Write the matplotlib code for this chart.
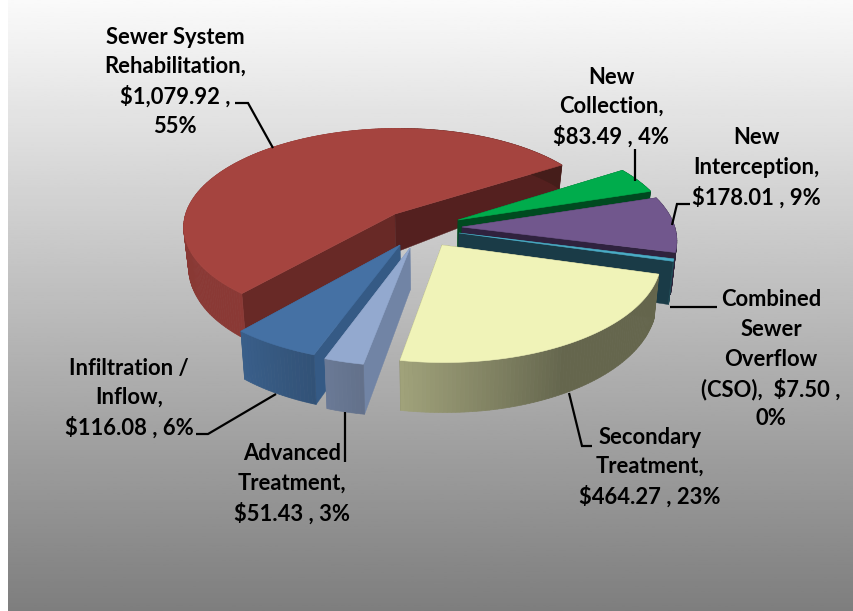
import numpy as np
import matplotlib
matplotlib.use('Agg')
import matplotlib.pyplot as plt
from matplotlib.patches import Polygon
from matplotlib.colors import to_rgb

# valores do grafico
nomes = ['Sewer System Rehabilitation', 'New Collection', 'New Interception',
         'Combined Sewer Overflow (CSO)', 'Secondary Treatment',
         'Advanced Treatment', 'Infiltration / Inflow']
valores = [1079.92, 83.49, 178.01, 7.50, 464.27, 51.43, 116.08]
cores = ['#A5443F', '#00AC4C', '#71578D', '#4BACC6', '#F0F3B8', '#93A9CF', '#4571A4']
# cor das faces de corte: (primeira face, ultima face)
cores_corte = [('#54201F', '#682926'), ('#004A20', '#004A20'), ('#2F223E', '#2F223E'),
               ('#1A3B47', '#1A3B47'), ('#62624A', '#62624A'), ('#7184A5', '#7184A5'),
               ('#355A85', '#355A85')]

rotulos = [
    ['Sewer System', 'Rehabilitation,', '$1,079.92 ,', '55%'],
    ['New', 'Collection,', '$83.49 , 4%'],
    ['New', 'Interception,', '$178.01 , 9%'],
    ['Combined', 'Sewer', 'Overflow', '(CSO),  $7.50 ,', '0%'],
    ['Secondary', 'Treatment,', '$464.27 , 23%'],
    ['Advanced', 'Treatment,', '$51.43 , 3%'],
    ['Infiltration /', 'Inflow,', '$116.08 , 6%'],
]

# layout em pixels
rotulo_x = [175, 611, 756, 771, 650, 292, 129]
rotulo_y = [37, 77, 138, 300, 437, 454, 368]
vertices = [(395, 214), (458, 220), (462, 227), (459, 233), (442, 245), (410, 248), (400, 245)]
guias = [
    [(235, 103), (248, 103), (273, 148)],
    [(635, 149), (635, 181)],
    [(672, 225), (677, 204), (690, 204)],
    [(670, 307), (717, 307)],
    [(569, 393), (582, 446), (592, 446)],
    [(345, 412), (345, 462)],
    [(276, 394), (208, 434), (196, 434)],
]
ordem = [0, 1, 2, 3, 4, 6, 5]

cx, cy, rx, ry, k = 428, 228, 213, 99, 0.12
inicio = 220.7


def projeta(u, v):
    s = 1 / (1 + k * v)
    x = cx + rx * u * s
    y = cy - ry * v * s
    prof = np.interp(s, [0.92, 0.98, 1.05, 1.16], [23, 38, 44, 50])
    return x, y, prof


def desprojeta(x, y):
    w = (cy - y) / ry
    v = w / (1 - k * w)
    s = 1 / (1 + k * v)
    return (x - cx) / (rx * s), v


def baixo(x):
    # a base converge um pouco para o centro
    return cx + (x - cx) * 0.98


def tom(cor, f):
    return tuple(c * f for c in to_rgb(cor))


def luz(b):
    return np.interp(b % 360, [100, 150, 190, 220, 300], [0.42, 0.42, 0.67, 0.84, 0.82])


fig = plt.figure(figsize=(8.54, 6.11), dpi=100)
ax = fig.add_axes([0, 0, 1, 1])
ax.set_xlim(0, 854)
ax.set_ylim(611, 0)
ax.axis('off')

fundo = np.linspace(0.98, 0.495, 256).reshape(-1, 1)
ax.imshow(fundo, cmap='gray', vmin=0, vmax=1, extent=(8, 854, 611, 0), aspect='auto', zorder=0)

fracoes = np.array(valores) / sum(valores)
fim = inicio + np.cumsum(fracoes) * 360
comeco = fim - fracoes * 360

z = 2
for i in ordem:
    u0, v0 = desprojeta(*vertices[i])
    b = np.radians(np.linspace(comeco[i], fim[i], max(int(fracoes[i] * 360), 2) + 1))
    ax0, ay0, ap = projeta(u0, v0)
    xs, ys, ps = projeta(u0 + np.sin(b), v0 + np.cos(b))

    # faces de corte
    for n, j in enumerate([0, -1]):
        face = [(ax0, ay0), (xs[j], ys[j]), (baixo(xs[j]), ys[j] + ps[j]), (baixo(ax0), ay0 + ap)]
        cor = cores_corte[i][1 - n]
        ax.add_patch(Polygon(face, closed=True, fc=cor, ec=cor, lw=0.3, zorder=z))
        z += 1

    # parede externa
    for j in range(len(b) - 1):
        cor = tom(cores[i], luz(np.degrees(b[j])))
        q = [(xs[j], ys[j]), (xs[j + 1], ys[j + 1]),
             (baixo(xs[j + 1]), ys[j + 1] + ps[j + 1]), (baixo(xs[j]), ys[j] + ps[j])]
        ax.add_patch(Polygon(q, closed=True, fc=cor, ec=cor, lw=0.5, zorder=z))
    z += 1

    # topo
    topo = [(ax0, ay0)] + list(zip(xs, ys))
    ax.add_patch(Polygon(topo, closed=True, fc=cores[i], ec=cores[i], lw=0.4, zorder=z))
    z += 1

for g in guias:
    ax.plot([p[0] for p in g], [p[1] for p in g], color='black', lw=1.6, zorder=z,
            solid_joinstyle='miter', solid_capstyle='butt')

for i in range(len(rotulos)):
    for n, linha in enumerate(rotulos[i]):
        ax.text(rotulo_x[i], rotulo_y[i] + n * 29.7, linha, ha='center', va='center',
                fontsize=15.8, fontweight='bold', family='Lato', color='black', zorder=z + 1)

fig.savefig('out.png', dpi=100)
